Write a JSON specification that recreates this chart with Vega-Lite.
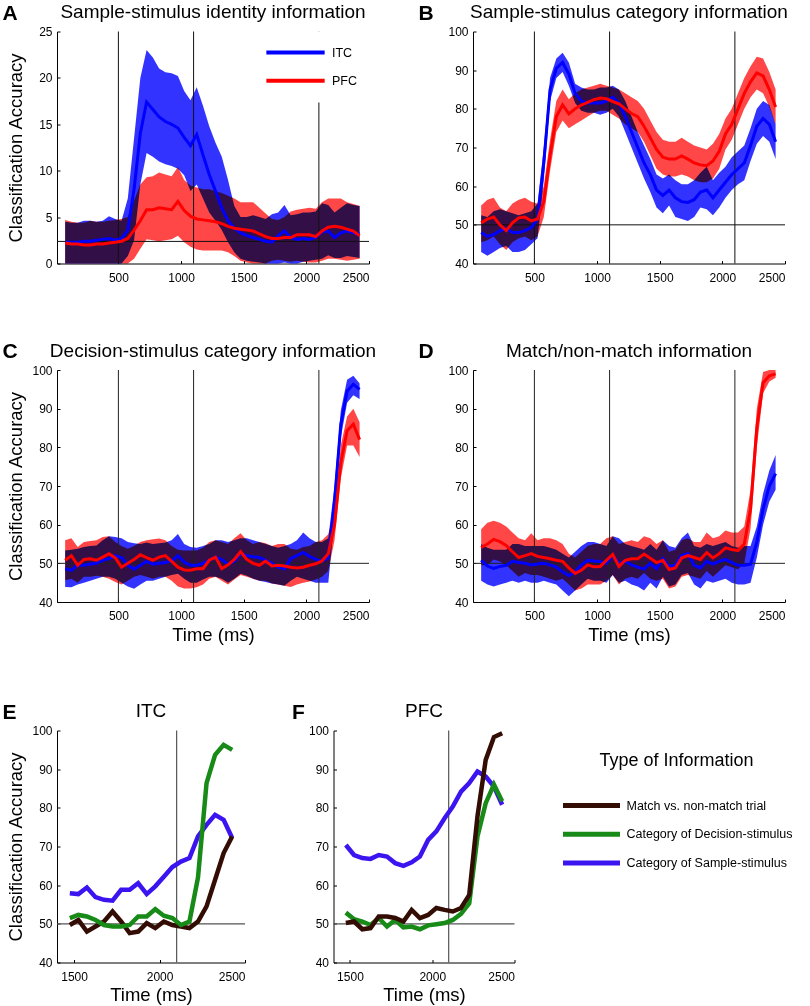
{
"$schema": "https://vega.github.io/schema/vega-lite/v6.json",
"background": "white",
"padding": {"left": 2, "top": 1.5, "right": 0, "bottom": 0},
"config": {
 "view": {"stroke": null},
 "font": "Liberation Sans",
 "axis": {"domainColor": "#000", "tickColor": "#000", "tickSize": -3, "labelColor": "#000", "labelFont": "Liberation Sans", "labelFontSize": 12, "titleFont": "Liberation Sans", "titleFontSize": 18.5, "titleFontWeight": "normal", "titleColor": "#000", "grid": false},
 "axisX": {"labelPadding": 11.5},
 "axisY": {"labelPadding": 8},
 "title": {"font": "Liberation Sans", "fontSize": 19, "fontWeight": "normal", "color": "#000", "anchor": "middle", "frame": "group", "baseline": "alphabetic", "offset": -20},
 "legend": {"labelFont": "Liberation Sans", "titleFont": "Liberation Sans", "labelColor": "#000", "titleColor": "#000", "labelLimit": 400}
},
"datasets": {
 "events": [{"t": 500}, {"t": 1100}, {"t": 2100}],
 "eventsEF": [{"t": 2100}],
 "chanceA": [{"chance": 2.38}],
 "chance50": [{"chance": 50}],
 "A": [
{"area":"ITC","t":75,"m":2.3,"lo":0,"hi":4.5},{"area":"ITC","t":125,"m":2.3,"lo":0,"hi":4.4},{"area":"ITC","t":175,"m":2.3,"lo":0,"hi":4.4},{"area":"ITC","t":225,"m":2.4,"lo":0,"hi":4.6},{"area":"ITC","t":275,"m":2.4,"lo":0,"hi":4.6},{"area":"ITC","t":325,"m":2.5,"lo":0,"hi":4.5},{"area":"ITC","t":375,"m":2.6,"lo":0,"hi":4.6},{"area":"ITC","t":425,"m":2.7,"lo":0,"hi":5.1},{"area":"ITC","t":475,"m":2.5,"lo":0,"hi":4.8},{"area":"ITC","t":525,"m":2.7,"lo":0,"hi":4.6},
{"area":"ITC","t":575,"m":3.6,"lo":0.8,"hi":7.0},{"area":"ITC","t":625,"m":8.0,"lo":2.5,"hi":13.5},{"area":"ITC","t":675,"m":14.0,"lo":8.5,"hi":20.0},{"area":"ITC","t":725,"m":17.4,"lo":11.9,"hi":23.0},{"area":"ITC","t":775,"m":16.6,"lo":11.5,"hi":22.2},{"area":"ITC","t":825,"m":15.8,"lo":11.0,"hi":21.0},{"area":"ITC","t":875,"m":15.3,"lo":10.7,"hi":20.6},{"area":"ITC","t":925,"m":15.0,"lo":10.5,"hi":20.5},{"area":"ITC","t":975,"m":14.6,"lo":10.2,"hi":20.2},{"area":"ITC","t":1025,"m":13.6,"lo":9.5,"hi":18.6},
{"area":"ITC","t":1075,"m":12.7,"lo":7.8,"hi":17.6},{"area":"ITC","t":1125,"m":13.9,"lo":8.5,"hi":19.0},{"area":"ITC","t":1175,"m":11.7,"lo":7.0,"hi":17.0},{"area":"ITC","t":1225,"m":9.6,"lo":5.5,"hi":14.8},{"area":"ITC","t":1275,"m":7.8,"lo":4.6,"hi":13.0},{"area":"ITC","t":1325,"m":6.0,"lo":3.6,"hi":11.5},{"area":"ITC","t":1375,"m":4.6,"lo":2.3,"hi":9.0},{"area":"ITC","t":1425,"m":3.8,"lo":1.2,"hi":6.2},{"area":"ITC","t":1475,"m":3.3,"lo":0.5,"hi":5.0},{"area":"ITC","t":1525,"m":3.0,"lo":0.3,"hi":5.0},
{"area":"ITC","t":1575,"m":2.8,"lo":0.2,"hi":5.2},{"area":"ITC","t":1625,"m":2.6,"lo":0.1,"hi":5.0},{"area":"ITC","t":1675,"m":2.4,"lo":0,"hi":4.8},{"area":"ITC","t":1725,"m":2.3,"lo":0,"hi":5.3},{"area":"ITC","t":1775,"m":3.0,"lo":0,"hi":5.5},{"area":"ITC","t":1825,"m":3.5,"lo":0.1,"hi":6.3},{"area":"ITC","t":1875,"m":2.8,"lo":0,"hi":5.2},{"area":"ITC","t":1925,"m":2.6,"lo":0,"hi":5.3},{"area":"ITC","t":1975,"m":2.7,"lo":0.2,"hi":5.5},{"area":"ITC","t":2025,"m":2.6,"lo":0.3,"hi":5.5},
{"area":"ITC","t":2075,"m":2.8,"lo":0.4,"hi":5.6},{"area":"ITC","t":2125,"m":3.4,"lo":0.5,"hi":6.5},{"area":"ITC","t":2175,"m":3.5,"lo":0.9,"hi":6.3},{"area":"ITC","t":2225,"m":2.8,"lo":0.6,"hi":5.5},{"area":"ITC","t":2275,"m":3.3,"lo":0.6,"hi":6.0},{"area":"ITC","t":2325,"m":3.5,"lo":0.8,"hi":6.5},{"area":"ITC","t":2375,"m":3.3,"lo":0.7,"hi":6.3},{"area":"ITC","t":2425,"m":3.2,"lo":0.6,"hi":6.2},
{"area":"PFC","t":75,"m":2.2,"lo":0,"hi":4.7},{"area":"PFC","t":125,"m":2.1,"lo":0,"hi":4.5},{"area":"PFC","t":175,"m":2.1,"lo":0,"hi":4.4},{"area":"PFC","t":225,"m":2.0,"lo":0,"hi":4.4},{"area":"PFC","t":275,"m":2.0,"lo":0,"hi":4.6},{"area":"PFC","t":325,"m":2.1,"lo":0,"hi":4.5},{"area":"PFC","t":375,"m":2.1,"lo":0,"hi":4.5},{"area":"PFC","t":425,"m":2.2,"lo":0,"hi":4.6},{"area":"PFC","t":475,"m":2.3,"lo":0,"hi":4.7},{"area":"PFC","t":525,"m":2.4,"lo":0,"hi":4.8},
{"area":"PFC","t":575,"m":2.7,"lo":0,"hi":5.0},{"area":"PFC","t":625,"m":3.6,"lo":0.5,"hi":6.8},{"area":"PFC","t":675,"m":4.6,"lo":1.6,"hi":8.5},{"area":"PFC","t":725,"m":5.8,"lo":2.6,"hi":9.3},{"area":"PFC","t":775,"m":5.8,"lo":2.5,"hi":9.4},{"area":"PFC","t":825,"m":6.0,"lo":2.4,"hi":9.8},{"area":"PFC","t":875,"m":5.9,"lo":2.5,"hi":9.6},{"area":"PFC","t":925,"m":5.8,"lo":2.6,"hi":9.4},{"area":"PFC","t":975,"m":6.7,"lo":3.0,"hi":10.4},{"area":"PFC","t":1025,"m":5.7,"lo":2.3,"hi":9.0},
{"area":"PFC","t":1075,"m":5.1,"lo":1.8,"hi":8.4},{"area":"PFC","t":1125,"m":4.8,"lo":1.5,"hi":8.2},{"area":"PFC","t":1175,"m":4.7,"lo":1.4,"hi":8.0},{"area":"PFC","t":1225,"m":4.6,"lo":1.4,"hi":8.0},{"area":"PFC","t":1275,"m":4.5,"lo":1.4,"hi":7.8},{"area":"PFC","t":1325,"m":4.3,"lo":1.4,"hi":7.6},{"area":"PFC","t":1375,"m":4.0,"lo":1.2,"hi":7.3},{"area":"PFC","t":1425,"m":3.8,"lo":0.8,"hi":7.0},{"area":"PFC","t":1475,"m":3.7,"lo":0.3,"hi":6.6},{"area":"PFC","t":1525,"m":3.6,"lo":0.1,"hi":6.6},
{"area":"PFC","t":1575,"m":3.5,"lo":0,"hi":6.6},{"area":"PFC","t":1625,"m":3.2,"lo":0,"hi":6.0},{"area":"PFC","t":1675,"m":2.9,"lo":0,"hi":5.4},{"area":"PFC","t":1725,"m":2.7,"lo":0.3,"hi":4.8},{"area":"PFC","t":1775,"m":2.7,"lo":0.4,"hi":4.7},{"area":"PFC","t":1825,"m":2.8,"lo":0.3,"hi":5.0},{"area":"PFC","t":1875,"m":2.8,"lo":0.2,"hi":5.6},{"area":"PFC","t":1925,"m":3.1,"lo":0.3,"hi":5.8},{"area":"PFC","t":1975,"m":3.1,"lo":0.2,"hi":5.9},{"area":"PFC","t":2025,"m":3.1,"lo":0.1,"hi":6.0},
{"area":"PFC","t":2075,"m":2.9,"lo":0.1,"hi":5.9},{"area":"PFC","t":2125,"m":3.5,"lo":0.3,"hi":6.6},{"area":"PFC","t":2175,"m":3.9,"lo":0.5,"hi":7.0},{"area":"PFC","t":2225,"m":4.0,"lo":0.5,"hi":7.0},{"area":"PFC","t":2275,"m":3.9,"lo":0.4,"hi":7.0},{"area":"PFC","t":2325,"m":3.7,"lo":0.3,"hi":6.6},{"area":"PFC","t":2375,"m":3.5,"lo":0.4,"hi":6.4},{"area":"PFC","t":2425,"m":3.0,"lo":0.5,"hi":6.2}
 ],
 "B": [
{"area":"ITC","t":75,"m":48.0,"lo":43.0,"hi":52.5},{"area":"ITC","t":125,"m":47.0,"lo":42.0,"hi":52.0},{"area":"ITC","t":175,"m":47.5,"lo":43.0,"hi":53.5},{"area":"ITC","t":225,"m":48.5,"lo":44.0,"hi":54.0},{"area":"ITC","t":275,"m":49.0,"lo":44.5,"hi":53.5},{"area":"ITC","t":325,"m":48.0,"lo":43.0,"hi":53.0},{"area":"ITC","t":375,"m":48.0,"lo":43.0,"hi":52.5},{"area":"ITC","t":425,"m":48.5,"lo":43.5,"hi":53.0},{"area":"ITC","t":475,"m":49.3,"lo":45.0,"hi":53.5},{"area":"ITC","t":525,"m":51.5,"lo":46.5,"hi":55.5},
{"area":"ITC","t":575,"m":66.0,"lo":61.5,"hi":70.0},{"area":"ITC","t":625,"m":85.0,"lo":82.0,"hi":88.0},{"area":"ITC","t":675,"m":90.5,"lo":88.0,"hi":93.0},{"area":"ITC","t":725,"m":92.0,"lo":89.5,"hi":94.5},{"area":"ITC","t":775,"m":89.0,"lo":86.0,"hi":92.0},{"area":"ITC","t":825,"m":84.0,"lo":81.5,"hi":86.5},{"area":"ITC","t":875,"m":82.0,"lo":79.5,"hi":85.5},{"area":"ITC","t":925,"m":81.5,"lo":79.0,"hi":85.0},{"area":"ITC","t":975,"m":81.5,"lo":79.0,"hi":85.0},{"area":"ITC","t":1025,"m":81.5,"lo":78.5,"hi":85.5},
{"area":"ITC","t":1075,"m":82.0,"lo":79.0,"hi":85.5},{"area":"ITC","t":1125,"m":83.0,"lo":80.0,"hi":86.0},{"area":"ITC","t":1175,"m":81.5,"lo":78.0,"hi":85.0},{"area":"ITC","t":1225,"m":78.0,"lo":74.0,"hi":82.0},{"area":"ITC","t":1275,"m":74.0,"lo":70.0,"hi":78.0},{"area":"ITC","t":1325,"m":70.0,"lo":66.0,"hi":74.0},{"area":"ITC","t":1375,"m":66.0,"lo":62.0,"hi":70.5},{"area":"ITC","t":1425,"m":63.0,"lo":58.5,"hi":67.0},{"area":"ITC","t":1475,"m":59.0,"lo":54.5,"hi":63.0},{"area":"ITC","t":1525,"m":57.6,"lo":53.0,"hi":62.0},
{"area":"ITC","t":1575,"m":59.0,"lo":55.0,"hi":63.0},{"area":"ITC","t":1625,"m":57.0,"lo":52.0,"hi":61.5},{"area":"ITC","t":1675,"m":56.0,"lo":51.5,"hi":60.5},{"area":"ITC","t":1725,"m":55.8,"lo":51.0,"hi":60.5},{"area":"ITC","t":1775,"m":56.5,"lo":52.0,"hi":61.5},{"area":"ITC","t":1825,"m":58.5,"lo":54.5,"hi":63.5},{"area":"ITC","t":1875,"m":59.0,"lo":54.0,"hi":65.0},{"area":"ITC","t":1925,"m":57.0,"lo":52.5,"hi":61.5},{"area":"ITC","t":1975,"m":59.0,"lo":54.5,"hi":63.5},{"area":"ITC","t":2025,"m":61.0,"lo":57.0,"hi":65.0},
{"area":"ITC","t":2075,"m":63.0,"lo":59.0,"hi":67.5},{"area":"ITC","t":2125,"m":64.5,"lo":60.5,"hi":69.0},{"area":"ITC","t":2175,"m":66.0,"lo":61.5,"hi":70.5},{"area":"ITC","t":2225,"m":70.5,"lo":66.5,"hi":75.0},{"area":"ITC","t":2275,"m":75.5,"lo":71.0,"hi":80.0},{"area":"ITC","t":2325,"m":77.5,"lo":73.0,"hi":82.0},{"area":"ITC","t":2375,"m":76.0,"lo":71.5,"hi":81.0},{"area":"ITC","t":2425,"m":71.5,"lo":67.0,"hi":76.0},
{"area":"PFC","t":75,"m":50.5,"lo":45.5,"hi":55.0},{"area":"PFC","t":125,"m":51.5,"lo":46.0,"hi":56.5},{"area":"PFC","t":175,"m":52.0,"lo":47.0,"hi":57.0},{"area":"PFC","t":225,"m":50.0,"lo":45.0,"hi":54.5},{"area":"PFC","t":275,"m":48.5,"lo":43.5,"hi":53.5},{"area":"PFC","t":325,"m":50.5,"lo":45.5,"hi":55.5},{"area":"PFC","t":375,"m":51.8,"lo":46.5,"hi":56.5},{"area":"PFC","t":425,"m":52.0,"lo":47.0,"hi":57.0},{"area":"PFC","t":475,"m":51.0,"lo":46.0,"hi":56.0},{"area":"PFC","t":525,"m":51.5,"lo":47.0,"hi":55.5},
{"area":"PFC","t":575,"m":56.0,"lo":52.0,"hi":60.0},{"area":"PFC","t":625,"m":68.0,"lo":64.0,"hi":72.0},{"area":"PFC","t":675,"m":78.0,"lo":74.0,"hi":82.0},{"area":"PFC","t":725,"m":81.0,"lo":77.0,"hi":85.0},{"area":"PFC","t":775,"m":78.7,"lo":75.0,"hi":82.5},{"area":"PFC","t":825,"m":80.0,"lo":76.0,"hi":84.0},{"area":"PFC","t":875,"m":81.0,"lo":77.0,"hi":85.0},{"area":"PFC","t":925,"m":81.7,"lo":78.0,"hi":85.5},{"area":"PFC","t":975,"m":82.4,"lo":79.0,"hi":86.0},{"area":"PFC","t":1025,"m":82.8,"lo":79.5,"hi":86.5},
{"area":"PFC","t":1075,"m":82.6,"lo":79.5,"hi":86.0},{"area":"PFC","t":1125,"m":81.9,"lo":78.5,"hi":85.5},{"area":"PFC","t":1175,"m":81.3,"lo":77.5,"hi":85.0},{"area":"PFC","t":1225,"m":80.0,"lo":76.0,"hi":84.0},{"area":"PFC","t":1275,"m":78.8,"lo":75.0,"hi":83.0},{"area":"PFC","t":1325,"m":78.0,"lo":74.0,"hi":82.0},{"area":"PFC","t":1375,"m":75.5,"lo":71.5,"hi":80.0},{"area":"PFC","t":1425,"m":72.5,"lo":68.0,"hi":77.0},{"area":"PFC","t":1475,"m":69.5,"lo":64.5,"hi":74.0},{"area":"PFC","t":1525,"m":67.5,"lo":63.0,"hi":72.0},
{"area":"PFC","t":1575,"m":67.0,"lo":62.5,"hi":71.5},{"area":"PFC","t":1625,"m":67.0,"lo":62.5,"hi":71.5},{"area":"PFC","t":1675,"m":67.8,"lo":63.0,"hi":72.5},{"area":"PFC","t":1725,"m":67.0,"lo":62.5,"hi":71.5},{"area":"PFC","t":1775,"m":66.0,"lo":61.5,"hi":70.5},{"area":"PFC","t":1825,"m":65.5,"lo":61.0,"hi":70.0},{"area":"PFC","t":1875,"m":65.3,"lo":61.0,"hi":69.5},{"area":"PFC","t":1925,"m":66.5,"lo":62.0,"hi":71.0},{"area":"PFC","t":1975,"m":69.0,"lo":64.5,"hi":73.5},{"area":"PFC","t":2025,"m":73.5,"lo":69.5,"hi":77.5},
{"area":"PFC","t":2075,"m":76.0,"lo":72.0,"hi":80.0},{"area":"PFC","t":2125,"m":80.0,"lo":76.0,"hi":84.0},{"area":"PFC","t":2175,"m":84.0,"lo":80.0,"hi":88.0},{"area":"PFC","t":2225,"m":87.0,"lo":83.0,"hi":91.0},{"area":"PFC","t":2275,"m":89.3,"lo":85.0,"hi":93.5},{"area":"PFC","t":2325,"m":88.5,"lo":84.0,"hi":93.0},{"area":"PFC","t":2375,"m":85.0,"lo":80.5,"hi":89.5},{"area":"PFC","t":2425,"m":80.5,"lo":76.0,"hi":85.0}
 ],
 "C": [
{"area":"ITC","t":75,"m":48.6,"lo":43.9,"hi":53.3},{"area":"ITC","t":125,"m":48.2,"lo":43.8,"hi":53.5},{"area":"ITC","t":175,"m":49.6,"lo":44.5,"hi":53.8},{"area":"ITC","t":225,"m":49.5,"lo":45.0,"hi":54.2},{"area":"ITC","t":275,"m":49.8,"lo":45.5,"hi":54.5},{"area":"ITC","t":325,"m":50.0,"lo":46.0,"hi":54.6},{"area":"ITC","t":375,"m":50.8,"lo":46.5,"hi":56.0},{"area":"ITC","t":425,"m":51.2,"lo":46.5,"hi":57.0},{"area":"ITC","t":475,"m":52.0,"lo":46.0,"hi":56.8},{"area":"ITC","t":525,"m":51.5,"lo":45.0,"hi":56.5},
{"area":"ITC","t":575,"m":49.5,"lo":44.0,"hi":55.5},{"area":"ITC","t":625,"m":48.5,"lo":43.4,"hi":55.2},{"area":"ITC","t":675,"m":49.5,"lo":44.5,"hi":55.0},{"area":"ITC","t":725,"m":50.5,"lo":45.5,"hi":55.4},{"area":"ITC","t":775,"m":49.8,"lo":45.5,"hi":55.0},{"area":"ITC","t":825,"m":50.0,"lo":46.0,"hi":55.2},{"area":"ITC","t":875,"m":50.2,"lo":46.5,"hi":55.4},{"area":"ITC","t":925,"m":50.6,"lo":47.0,"hi":56.0},{"area":"ITC","t":975,"m":52.0,"lo":47.3,"hi":57.6},{"area":"ITC","t":1025,"m":50.3,"lo":46.0,"hi":55.0},
{"area":"ITC","t":1075,"m":49.5,"lo":45.0,"hi":54.2},{"area":"ITC","t":1125,"m":49.5,"lo":45.0,"hi":54.0},{"area":"ITC","t":1175,"m":50.0,"lo":45.8,"hi":54.5},{"area":"ITC","t":1225,"m":50.8,"lo":46.5,"hi":55.0},{"area":"ITC","t":1275,"m":51.6,"lo":46.5,"hi":56.0},{"area":"ITC","t":1325,"m":51.0,"lo":46.0,"hi":56.0},{"area":"ITC","t":1375,"m":49.8,"lo":45.0,"hi":55.5},{"area":"ITC","t":1425,"m":50.5,"lo":46.0,"hi":56.0},{"area":"ITC","t":1475,"m":52.5,"lo":47.3,"hi":56.5},{"area":"ITC","t":1525,"m":52.0,"lo":46.8,"hi":56.5},
{"area":"ITC","t":1575,"m":51.7,"lo":46.0,"hi":56.0},{"area":"ITC","t":1625,"m":51.5,"lo":45.5,"hi":55.5},{"area":"ITC","t":1675,"m":50.8,"lo":45.2,"hi":55.0},{"area":"ITC","t":1725,"m":50.0,"lo":44.8,"hi":54.5},{"area":"ITC","t":1775,"m":49.0,"lo":44.5,"hi":54.0},{"area":"ITC","t":1825,"m":48.6,"lo":44.2,"hi":54.5},{"area":"ITC","t":1875,"m":51.2,"lo":45.5,"hi":55.0},{"area":"ITC","t":1925,"m":52.0,"lo":46.5,"hi":56.0},{"area":"ITC","t":1975,"m":52.8,"lo":46.0,"hi":58.0},{"area":"ITC","t":2025,"m":51.8,"lo":45.5,"hi":56.5},
{"area":"ITC","t":2075,"m":51.0,"lo":45.0,"hi":55.5},{"area":"ITC","t":2125,"m":50.5,"lo":45.0,"hi":55.5},{"area":"ITC","t":2175,"m":51.5,"lo":45.0,"hi":56.5},{"area":"ITC","t":2225,"m":66.0,"lo":61.5,"hi":70.0},{"area":"ITC","t":2275,"m":86.0,"lo":82.5,"hi":89.5},{"area":"ITC","t":2325,"m":94.5,"lo":91.5,"hi":97.5},{"area":"ITC","t":2375,"m":96.3,"lo":93.5,"hi":98.5},{"area":"ITC","t":2425,"m":95.0,"lo":92.5,"hi":96.5},
{"area":"PFC","t":75,"m":50.8,"lo":45.6,"hi":56.0},{"area":"PFC","t":125,"m":52.0,"lo":46.0,"hi":56.5},{"area":"PFC","t":175,"m":49.5,"lo":45.0,"hi":54.2},{"area":"PFC","t":225,"m":51.0,"lo":46.5,"hi":55.5},{"area":"PFC","t":275,"m":51.2,"lo":46.5,"hi":55.8},{"area":"PFC","t":325,"m":50.8,"lo":46.8,"hi":56.0},{"area":"PFC","t":375,"m":51.6,"lo":46.5,"hi":56.8},{"area":"PFC","t":425,"m":52.5,"lo":46.0,"hi":57.0},{"area":"PFC","t":475,"m":51.4,"lo":45.2,"hi":55.5},{"area":"PFC","t":525,"m":49.0,"lo":44.5,"hi":54.5},
{"area":"PFC","t":575,"m":50.0,"lo":45.5,"hi":53.8},{"area":"PFC","t":625,"m":51.0,"lo":46.5,"hi":54.5},{"area":"PFC","t":675,"m":52.2,"lo":47.0,"hi":55.5},{"area":"PFC","t":725,"m":51.5,"lo":46.5,"hi":56.0},{"area":"PFC","t":775,"m":50.8,"lo":46.0,"hi":56.2},{"area":"PFC","t":825,"m":51.6,"lo":46.5,"hi":56.4},{"area":"PFC","t":875,"m":52.0,"lo":46.5,"hi":56.0},{"area":"PFC","t":925,"m":50.5,"lo":45.5,"hi":54.5},{"area":"PFC","t":975,"m":49.0,"lo":44.0,"hi":53.5},{"area":"PFC","t":1025,"m":48.3,"lo":43.5,"hi":53.3},
{"area":"PFC","t":1075,"m":48.2,"lo":43.5,"hi":53.3},{"area":"PFC","t":1125,"m":48.6,"lo":43.8,"hi":53.3},{"area":"PFC","t":1175,"m":48.6,"lo":44.5,"hi":54.0},{"area":"PFC","t":1225,"m":50.8,"lo":46.0,"hi":55.5},{"area":"PFC","t":1275,"m":51.6,"lo":46.5,"hi":56.0},{"area":"PFC","t":1325,"m":48.6,"lo":45.5,"hi":55.5},{"area":"PFC","t":1375,"m":49.6,"lo":44.5,"hi":55.0},{"area":"PFC","t":1425,"m":51.0,"lo":45.8,"hi":56.5},{"area":"PFC","t":1475,"m":53.0,"lo":47.0,"hi":57.8},{"area":"PFC","t":1525,"m":51.0,"lo":46.5,"hi":56.0},
{"area":"PFC","t":1575,"m":50.0,"lo":46.0,"hi":55.0},{"area":"PFC","t":1625,"m":49.5,"lo":45.5,"hi":55.5},{"area":"PFC","t":1675,"m":50.6,"lo":45.5,"hi":55.2},{"area":"PFC","t":1725,"m":49.3,"lo":44.8,"hi":54.5},{"area":"PFC","t":1775,"m":49.5,"lo":44.5,"hi":55.0},{"area":"PFC","t":1825,"m":49.3,"lo":44.2,"hi":55.0},{"area":"PFC","t":1875,"m":49.0,"lo":43.9,"hi":53.8},{"area":"PFC","t":1925,"m":48.8,"lo":44.5,"hi":53.5},{"area":"PFC","t":1975,"m":49.0,"lo":45.0,"hi":54.2},{"area":"PFC","t":2025,"m":49.5,"lo":45.3,"hi":54.5},
{"area":"PFC","t":2075,"m":49.9,"lo":45.8,"hi":55.5},{"area":"PFC","t":2125,"m":50.6,"lo":46.5,"hi":56.0},{"area":"PFC","t":2175,"m":52.5,"lo":48.0,"hi":57.5},{"area":"PFC","t":2225,"m":60.0,"lo":56.0,"hi":64.0},{"area":"PFC","t":2275,"m":76.0,"lo":72.0,"hi":80.5},{"area":"PFC","t":2325,"m":84.3,"lo":80.5,"hi":88.0},{"area":"PFC","t":2375,"m":86.0,"lo":80.5,"hi":90.0},{"area":"PFC","t":2425,"m":82.0,"lo":77.5,"hi":86.5}
 ],
 "D": [
{"area":"ITC","t":75,"m":50.8,"lo":45.5,"hi":55.0},{"area":"ITC","t":125,"m":49.3,"lo":44.5,"hi":54.0},{"area":"ITC","t":175,"m":48.7,"lo":44.0,"hi":53.5},{"area":"ITC","t":225,"m":49.2,"lo":44.5,"hi":53.5},{"area":"ITC","t":275,"m":49.5,"lo":45.0,"hi":53.5},{"area":"ITC","t":325,"m":50.5,"lo":45.5,"hi":55.0},{"area":"ITC","t":375,"m":50.2,"lo":45.0,"hi":55.0},{"area":"ITC","t":425,"m":50.0,"lo":45.5,"hi":54.5},{"area":"ITC","t":475,"m":49.6,"lo":45.0,"hi":54.5},{"area":"ITC","t":525,"m":49.8,"lo":45.0,"hi":54.5},
{"area":"ITC","t":575,"m":50.0,"lo":45.5,"hi":54.5},{"area":"ITC","t":625,"m":49.6,"lo":45.0,"hi":54.0},{"area":"ITC","t":675,"m":49.0,"lo":44.5,"hi":53.5},{"area":"ITC","t":725,"m":47.8,"lo":43.0,"hi":52.5},{"area":"ITC","t":775,"m":46.8,"lo":41.5,"hi":51.5},{"area":"ITC","t":825,"m":47.8,"lo":43.0,"hi":53.0},{"area":"ITC","t":875,"m":49.6,"lo":44.5,"hi":54.5},{"area":"ITC","t":925,"m":50.8,"lo":46.0,"hi":55.5},{"area":"ITC","t":975,"m":50.6,"lo":45.5,"hi":55.5},{"area":"ITC","t":1025,"m":50.5,"lo":45.5,"hi":55.0},
{"area":"ITC","t":1075,"m":50.0,"lo":45.0,"hi":54.5},{"area":"ITC","t":1125,"m":52.0,"lo":47.0,"hi":57.0},{"area":"ITC","t":1175,"m":50.0,"lo":45.0,"hi":56.5},{"area":"ITC","t":1225,"m":50.5,"lo":45.5,"hi":55.0},{"area":"ITC","t":1275,"m":49.6,"lo":44.5,"hi":54.5},{"area":"ITC","t":1325,"m":49.0,"lo":44.0,"hi":54.0},{"area":"ITC","t":1375,"m":48.5,"lo":43.0,"hi":53.5},{"area":"ITC","t":1425,"m":50.0,"lo":45.0,"hi":55.0},{"area":"ITC","t":1475,"m":48.6,"lo":43.5,"hi":53.5},{"area":"ITC","t":1525,"m":51.2,"lo":46.5,"hi":56.0},
{"area":"ITC","t":1575,"m":49.2,"lo":44.0,"hi":54.5},{"area":"ITC","t":1625,"m":49.6,"lo":44.5,"hi":54.0},{"area":"ITC","t":1675,"m":52.0,"lo":47.0,"hi":56.5},{"area":"ITC","t":1725,"m":52.5,"lo":47.5,"hi":58.0},{"area":"ITC","t":1775,"m":49.5,"lo":44.5,"hi":54.5},{"area":"ITC","t":1825,"m":48.8,"lo":43.5,"hi":54.0},{"area":"ITC","t":1875,"m":50.5,"lo":45.5,"hi":55.0},{"area":"ITC","t":1925,"m":49.8,"lo":45.0,"hi":54.5},{"area":"ITC","t":1975,"m":50.5,"lo":45.5,"hi":55.0},{"area":"ITC","t":2025,"m":51.0,"lo":46.0,"hi":55.5},
{"area":"ITC","t":2075,"m":50.2,"lo":45.0,"hi":54.5},{"area":"ITC","t":2125,"m":49.5,"lo":44.5,"hi":54.0},{"area":"ITC","t":2175,"m":49.5,"lo":44.5,"hi":54.5},{"area":"ITC","t":2225,"m":49.8,"lo":45.0,"hi":54.5},{"area":"ITC","t":2275,"m":55.5,"lo":51.5,"hi":59.5},{"area":"ITC","t":2325,"m":64.0,"lo":60.0,"hi":68.0},{"area":"ITC","t":2375,"m":70.0,"lo":66.0,"hi":74.0},{"area":"ITC","t":2425,"m":73.2,"lo":69.0,"hi":78.0},
{"area":"PFC","t":75,"m":54.1,"lo":49.5,"hi":58.8},{"area":"PFC","t":125,"m":55.0,"lo":49.5,"hi":60.5},{"area":"PFC","t":175,"m":56.2,"lo":51.0,"hi":61.0},{"area":"PFC","t":225,"m":55.6,"lo":50.5,"hi":60.5},{"area":"PFC","t":275,"m":54.6,"lo":49.5,"hi":59.5},{"area":"PFC","t":325,"m":53.0,"lo":48.0,"hi":58.0},{"area":"PFC","t":375,"m":51.5,"lo":46.5,"hi":56.5},{"area":"PFC","t":425,"m":52.0,"lo":47.5,"hi":56.0},{"area":"PFC","t":475,"m":52.5,"lo":47.0,"hi":57.8},{"area":"PFC","t":525,"m":51.8,"lo":47.0,"hi":56.0},
{"area":"PFC","t":575,"m":51.5,"lo":46.5,"hi":56.5},{"area":"PFC","t":625,"m":51.2,"lo":46.0,"hi":56.5},{"area":"PFC","t":675,"m":50.8,"lo":45.5,"hi":56.0},{"area":"PFC","t":725,"m":50.5,"lo":46.0,"hi":55.0},{"area":"PFC","t":775,"m":48.8,"lo":44.5,"hi":52.5},{"area":"PFC","t":825,"m":47.4,"lo":43.0,"hi":51.5},{"area":"PFC","t":875,"m":48.2,"lo":43.5,"hi":53.0},{"area":"PFC","t":925,"m":49.6,"lo":44.5,"hi":54.5},{"area":"PFC","t":975,"m":49.1,"lo":44.5,"hi":55.0},{"area":"PFC","t":1025,"m":49.2,"lo":44.5,"hi":55.0},
{"area":"PFC","t":1075,"m":50.8,"lo":45.5,"hi":56.5},{"area":"PFC","t":1125,"m":52.3,"lo":47.0,"hi":57.0},{"area":"PFC","t":1175,"m":49.2,"lo":44.5,"hi":55.0},{"area":"PFC","t":1225,"m":50.8,"lo":46.0,"hi":55.5},{"area":"PFC","t":1275,"m":51.2,"lo":46.5,"hi":56.0},{"area":"PFC","t":1325,"m":51.2,"lo":46.0,"hi":55.5},{"area":"PFC","t":1375,"m":52.4,"lo":47.5,"hi":57.0},{"area":"PFC","t":1425,"m":51.3,"lo":46.0,"hi":56.5},{"area":"PFC","t":1475,"m":50.2,"lo":45.5,"hi":55.0},{"area":"PFC","t":1525,"m":50.8,"lo":46.0,"hi":56.0},
{"area":"PFC","t":1575,"m":48.4,"lo":43.5,"hi":53.0},{"area":"PFC","t":1625,"m":48.8,"lo":44.0,"hi":53.5},{"area":"PFC","t":1675,"m":51.4,"lo":46.5,"hi":56.0},{"area":"PFC","t":1725,"m":52.0,"lo":47.0,"hi":56.5},{"area":"PFC","t":1775,"m":51.5,"lo":46.5,"hi":55.5},{"area":"PFC","t":1825,"m":51.0,"lo":46.0,"hi":55.5},{"area":"PFC","t":1875,"m":52.8,"lo":48.0,"hi":58.0},{"area":"PFC","t":1925,"m":51.4,"lo":46.5,"hi":56.5},{"area":"PFC","t":1975,"m":52.5,"lo":48.0,"hi":57.0},{"area":"PFC","t":2025,"m":54.0,"lo":49.5,"hi":58.5},
{"area":"PFC","t":2075,"m":53.6,"lo":49.0,"hi":58.0},{"area":"PFC","t":2125,"m":53.3,"lo":48.5,"hi":58.0},{"area":"PFC","t":2175,"m":55.0,"lo":50.0,"hi":59.5},{"area":"PFC","t":2225,"m":64.0,"lo":59.0,"hi":69.0},{"area":"PFC","t":2275,"m":85.0,"lo":80.0,"hi":90.0},{"area":"PFC","t":2325,"m":96.7,"lo":94.0,"hi":99.5},{"area":"PFC","t":2375,"m":98.5,"lo":97.0,"hi":100},{"area":"PFC","t":2425,"m":99.0,"lo":98.0,"hi":100}
 ],
 "E": [
{"info":"Category of Sample-stimulus","t":1475,"v":57.9},{"info":"Category of Sample-stimulus","t":1525,"v":57.7},{"info":"Category of Sample-stimulus","t":1575,"v":59.4},{"info":"Category of Sample-stimulus","t":1625,"v":56.9},{"info":"Category of Sample-stimulus","t":1675,"v":56.2},{"info":"Category of Sample-stimulus","t":1725,"v":56.0},{"info":"Category of Sample-stimulus","t":1775,"v":58.8},{"info":"Category of Sample-stimulus","t":1825,"v":58.8},{"info":"Category of Sample-stimulus","t":1875,"v":60.5},{"info":"Category of Sample-stimulus","t":1925,"v":57.7},
{"info":"Category of Sample-stimulus","t":1975,"v":59.7},{"info":"Category of Sample-stimulus","t":2025,"v":62.2},{"info":"Category of Sample-stimulus","t":2075,"v":64.7},{"info":"Category of Sample-stimulus","t":2125,"v":66.1},{"info":"Category of Sample-stimulus","t":2175,"v":67.0},{"info":"Category of Sample-stimulus","t":2225,"v":72.6},{"info":"Category of Sample-stimulus","t":2275,"v":75.6},{"info":"Category of Sample-stimulus","t":2325,"v":78.2},{"info":"Category of Sample-stimulus","t":2375,"v":76.9},{"info":"Category of Sample-stimulus","t":2425,"v":72.2},
{"info":"Match vs. non-match trial","t":1475,"v":49.7},{"info":"Match vs. non-match trial","t":1525,"v":51.0},{"info":"Match vs. non-match trial","t":1575,"v":48.0},{"info":"Match vs. non-match trial","t":1625,"v":49.3},{"info":"Match vs. non-match trial","t":1675,"v":50.6},{"info":"Match vs. non-match trial","t":1725,"v":53.2},{"info":"Match vs. non-match trial","t":1775,"v":50.6},{"info":"Match vs. non-match trial","t":1825,"v":47.6},{"info":"Match vs. non-match trial","t":1875,"v":48.0},{"info":"Match vs. non-match trial","t":1925,"v":50.2},
{"info":"Match vs. non-match trial","t":1975,"v":48.9},{"info":"Match vs. non-match trial","t":2025,"v":50.6},{"info":"Match vs. non-match trial","t":2075,"v":49.7},{"info":"Match vs. non-match trial","t":2125,"v":49.3},{"info":"Match vs. non-match trial","t":2175,"v":48.9},{"info":"Match vs. non-match trial","t":2225,"v":50.6},{"info":"Match vs. non-match trial","t":2275,"v":54.5},{"info":"Match vs. non-match trial","t":2325,"v":61.4},{"info":"Match vs. non-match trial","t":2375,"v":68.3},{"info":"Match vs. non-match trial","t":2425,"v":72.6},
{"info":"Category of Decision-stimulus","t":1475,"v":51.5},{"info":"Category of Decision-stimulus","t":1525,"v":52.3},{"info":"Category of Decision-stimulus","t":1575,"v":51.9},{"info":"Category of Decision-stimulus","t":1625,"v":51.0},{"info":"Category of Decision-stimulus","t":1675,"v":49.7},{"info":"Category of Decision-stimulus","t":1725,"v":49.3},{"info":"Category of Decision-stimulus","t":1775,"v":49.3},{"info":"Category of Decision-stimulus","t":1825,"v":49.7},{"info":"Category of Decision-stimulus","t":1875,"v":51.9},{"info":"Category of Decision-stimulus","t":1925,"v":51.9},
{"info":"Category of Decision-stimulus","t":1975,"v":53.8},{"info":"Category of Decision-stimulus","t":2025,"v":52.1},{"info":"Category of Decision-stimulus","t":2075,"v":51.5},{"info":"Category of Decision-stimulus","t":2125,"v":49.7},{"info":"Category of Decision-stimulus","t":2175,"v":50.6},{"info":"Category of Decision-stimulus","t":2225,"v":62.0},{"info":"Category of Decision-stimulus","t":2275,"v":86.4},{"info":"Category of Decision-stimulus","t":2325,"v":93.7},{"info":"Category of Decision-stimulus","t":2375,"v":96.3},{"info":"Category of Decision-stimulus","t":2425,"v":95.0}
 ],
 "F": [
{"info":"Category of Sample-stimulus","t":1475,"v":70.4},{"info":"Category of Sample-stimulus","t":1525,"v":67.8},{"info":"Category of Sample-stimulus","t":1575,"v":67.0},{"info":"Category of Sample-stimulus","t":1625,"v":66.8},{"info":"Category of Sample-stimulus","t":1675,"v":67.8},{"info":"Category of Sample-stimulus","t":1725,"v":67.4},{"info":"Category of Sample-stimulus","t":1775,"v":65.7},{"info":"Category of Sample-stimulus","t":1825,"v":65.0},{"info":"Category of Sample-stimulus","t":1875,"v":65.9},{"info":"Category of Sample-stimulus","t":1925,"v":67.4},
{"info":"Category of Sample-stimulus","t":1975,"v":71.7},{"info":"Category of Sample-stimulus","t":2025,"v":73.9},{"info":"Category of Sample-stimulus","t":2075,"v":77.3},{"info":"Category of Sample-stimulus","t":2125,"v":80.3},{"info":"Category of Sample-stimulus","t":2175,"v":84.2},{"info":"Category of Sample-stimulus","t":2225,"v":86.4},{"info":"Category of Sample-stimulus","t":2275,"v":89.4},{"info":"Category of Sample-stimulus","t":2325,"v":88.1},{"info":"Category of Sample-stimulus","t":2375,"v":85.5},{"info":"Category of Sample-stimulus","t":2425,"v":80.8},
{"info":"Category of Decision-stimulus","t":1475,"v":52.9},{"info":"Category of Decision-stimulus","t":1525,"v":51.2},{"info":"Category of Decision-stimulus","t":1575,"v":50.6},{"info":"Category of Decision-stimulus","t":1625,"v":49.7},{"info":"Category of Decision-stimulus","t":1675,"v":51.5},{"info":"Category of Decision-stimulus","t":1725,"v":49.3},{"info":"Category of Decision-stimulus","t":1775,"v":51.0},{"info":"Category of Decision-stimulus","t":1825,"v":49.1},{"info":"Category of Decision-stimulus","t":1875,"v":49.3},{"info":"Category of Decision-stimulus","t":1925,"v":48.6},
{"info":"Category of Decision-stimulus","t":1975,"v":49.6},{"info":"Category of Decision-stimulus","t":2025,"v":49.9},{"info":"Category of Decision-stimulus","t":2075,"v":50.2},{"info":"Category of Decision-stimulus","t":2125,"v":51.0},{"info":"Category of Decision-stimulus","t":2175,"v":52.6},{"info":"Category of Decision-stimulus","t":2225,"v":55.3},{"info":"Category of Decision-stimulus","t":2275,"v":72.6},{"info":"Category of Decision-stimulus","t":2325,"v":81.2},{"info":"Category of Decision-stimulus","t":2375,"v":86.0},{"info":"Category of Decision-stimulus","t":2425,"v":81.7},
{"info":"Match vs. non-match trial","t":1475,"v":50.2},{"info":"Match vs. non-match trial","t":1525,"v":50.6},{"info":"Match vs. non-match trial","t":1575,"v":48.6},{"info":"Match vs. non-match trial","t":1625,"v":48.9},{"info":"Match vs. non-match trial","t":1675,"v":51.9},{"info":"Match vs. non-match trial","t":1725,"v":51.9},{"info":"Match vs. non-match trial","t":1775,"v":51.5},{"info":"Match vs. non-match trial","t":1825,"v":50.6},{"info":"Match vs. non-match trial","t":1875,"v":53.6},{"info":"Match vs. non-match trial","t":1925,"v":51.5},
{"info":"Match vs. non-match trial","t":1975,"v":52.3},{"info":"Match vs. non-match trial","t":2025,"v":54.1},{"info":"Match vs. non-match trial","t":2075,"v":53.6},{"info":"Match vs. non-match trial","t":2125,"v":53.2},{"info":"Match vs. non-match trial","t":2175,"v":54.1},{"info":"Match vs. non-match trial","t":2225,"v":57.5},{"info":"Match vs. non-match trial","t":2275,"v":77.8},{"info":"Match vs. non-match trial","t":2325,"v":92.4},{"info":"Match vs. non-match trial","t":2375,"v":98.3},{"info":"Match vs. non-match trial","t":2425,"v":99.3}
 ]
},
"resolve": {"scale": {"stroke": "independent"}, "legend": {"stroke": "independent"}},
"spacing": 56.5,
"vconcat": [
 {
  "hconcat": [
   {
    "width": 312, "height": 232,
    "title": "Sample-stimulus identity information",
    "resolve": {"axis": {"x": "independent", "y": "independent"}},
    "layer": [
     {"data": {"name": "A"}, "transform": [{"filter": {"field": "area", "equal": "ITC"}}], "mark": {"type": "area", "fill": "#0000ff", "fillOpacity": 0.8},
      "encoding": {
       "x": {"field": "t", "type": "quantitative", "scale": {"domain": [10, 2500], "nice": false}, "axis": {"values": [500, 1000, 1500, 2000, 2500], "format": "d", "title": null}},
       "y": {"field": "lo", "type": "quantitative", "scale": {"domain": [0, 25], "nice": false}, "axis": {"values": [0, 5, 10, 15, 20, 25], "title": "Classification Accuracy", "titleX": -42, "titleY": 116, "titleAngle": -90, "titleAlign": "center", "titleBaseline": "middle"}},
       "y2": {"field": "hi"}}},
     {"data": {"name": "A"}, "transform": [{"filter": {"field": "area", "equal": "PFC"}}], "mark": {"type": "area", "fill": "#ff0000", "fillOpacity": 0.72, "blend": "multiply"},
      "encoding": {
       "x": {"field": "t", "type": "quantitative", "scale": {"domain": [10, 2500], "nice": false}, "axis": null},
       "y": {"field": "lo", "type": "quantitative", "scale": {"domain": [0, 25], "nice": false}, "axis": null},
       "y2": {"field": "hi"}}},
     {"data": {"name": "events"}, "mark": {"type": "rule", "color": "#111", "strokeWidth": 1},
      "encoding": {"x": {"field": "t", "type": "quantitative", "scale": {"domain": [10, 2500], "nice": false}, "axis": {"orient": "top", "title": "A", "titleX": -55, "titleY": -12.5, "titleAlign": "left", "titleBaseline": "alphabetic", "titleFontSize": 21, "titleFontWeight": "bold", "labels": false, "ticks": false, "domain": false}}}},
     {"data": {"name": "chanceA"}, "mark": {"type": "rule", "color": "#111", "strokeWidth": 1},
      "encoding": {"y": {"field": "chance", "type": "quantitative", "scale": {"domain": [0, 25], "nice": false}, "axis": null}}},
     {"data": {"name": "A"}, "mark": {"type": "line", "strokeWidth": 3},
      "encoding": {
       "x": {"field": "t", "type": "quantitative", "scale": {"domain": [10, 2500], "nice": false}, "axis": null},
       "y": {"field": "m", "type": "quantitative", "scale": {"domain": [0, 25], "nice": false}, "axis": null},
       "stroke": {"field": "area", "type": "nominal", "scale": {"domain": ["ITC", "PFC"], "range": ["#0000ff", "#ff0000"]},
        "legend": {"orient": "none", "legendX": 194, "legendY": 0, "title": null, "fillColor": "white", "padding": 13, "symbolType": "stroke", "symbolSize": 3400, "symbolStrokeWidth": 4, "labelFontSize": 12.5, "labelOffset": 5, "clipHeight": 16, "rowPadding": 12.3}}}}
    ]
   },
   {
    "width": 312, "height": 232,
    "title": "Sample-stimulus category information",
    "resolve": {"axis": {"x": "independent", "y": "independent"}},
    "layer": [
     {"data": {"name": "B"}, "transform": [{"filter": {"field": "area", "equal": "ITC"}}], "mark": {"type": "area", "fill": "#0000ff", "fillOpacity": 0.8},
      "encoding": {
       "x": {"field": "t", "type": "quantitative", "scale": {"domain": [10, 2500], "nice": false}, "axis": {"values": [500, 1000, 1500, 2000, 2500], "format": "d", "title": null}},
       "y": {"field": "lo", "type": "quantitative", "scale": {"domain": [40, 100], "nice": false}, "axis": {"values": [40, 50, 60, 70, 80, 90, 100], "title": null}},
       "y2": {"field": "hi"}}},
     {"data": {"name": "B"}, "transform": [{"filter": {"field": "area", "equal": "PFC"}}], "mark": {"type": "area", "fill": "#ff0000", "fillOpacity": 0.72, "blend": "multiply"},
      "encoding": {
       "x": {"field": "t", "type": "quantitative", "scale": {"domain": [10, 2500], "nice": false}, "axis": null},
       "y": {"field": "lo", "type": "quantitative", "scale": {"domain": [40, 100], "nice": false}, "axis": null},
       "y2": {"field": "hi"}}},
     {"data": {"name": "events"}, "mark": {"type": "rule", "color": "#111", "strokeWidth": 1},
      "encoding": {"x": {"field": "t", "type": "quantitative", "scale": {"domain": [10, 2500], "nice": false}, "axis": {"orient": "top", "title": "B", "titleX": -55, "titleY": -12.5, "titleAlign": "left", "titleBaseline": "alphabetic", "titleFontSize": 21, "titleFontWeight": "bold", "labels": false, "ticks": false, "domain": false}}}},
     {"data": {"name": "chance50"}, "mark": {"type": "rule", "color": "#111", "strokeWidth": 1},
      "encoding": {"y": {"field": "chance", "type": "quantitative", "scale": {"domain": [40, 100], "nice": false}, "axis": null}}},
     {"data": {"name": "B"}, "mark": {"type": "line", "strokeWidth": 3},
      "encoding": {
       "x": {"field": "t", "type": "quantitative", "scale": {"domain": [10, 2500], "nice": false}, "axis": null},
       "y": {"field": "m", "type": "quantitative", "scale": {"domain": [40, 100], "nice": false}, "axis": null},
       "stroke": {"field": "area", "type": "nominal", "scale": {"domain": ["ITC", "PFC"], "range": ["#0000ff", "#ff0000"]}, "legend": null}}}
    ]
   }
  ],
  "spacing": 104, "bounds": "flush",
  "resolve": {"scale": {"stroke": "independent"}, "legend": {"stroke": "independent"}}
 },
 {
  "hconcat": [
   {
    "width": 312, "height": 232,
    "title": "Decision-stimulus category information",
    "resolve": {"axis": {"x": "independent", "y": "independent"}},
    "layer": [
     {"data": {"name": "C"}, "transform": [{"filter": {"field": "area", "equal": "ITC"}}], "mark": {"type": "area", "fill": "#0000ff", "fillOpacity": 0.8},
      "encoding": {
       "x": {"field": "t", "type": "quantitative", "scale": {"domain": [10, 2500], "nice": false}, "axis": {"values": [500, 1000, 1500, 2000, 2500], "format": "d", "title": "Time (ms)", "titleY": 38.5, "titleBaseline": "alphabetic"}},
       "y": {"field": "lo", "type": "quantitative", "scale": {"domain": [40, 100], "nice": false}, "axis": {"values": [40, 50, 60, 70, 80, 90, 100], "title": "Classification Accuracy", "titleX": -42, "titleY": 116, "titleAngle": -90, "titleAlign": "center", "titleBaseline": "middle"}},
       "y2": {"field": "hi"}}},
     {"data": {"name": "C"}, "transform": [{"filter": {"field": "area", "equal": "PFC"}}], "mark": {"type": "area", "fill": "#ff0000", "fillOpacity": 0.72, "blend": "multiply"},
      "encoding": {
       "x": {"field": "t", "type": "quantitative", "scale": {"domain": [10, 2500], "nice": false}, "axis": null},
       "y": {"field": "lo", "type": "quantitative", "scale": {"domain": [40, 100], "nice": false}, "axis": null},
       "y2": {"field": "hi"}}},
     {"data": {"name": "events"}, "mark": {"type": "rule", "color": "#222", "strokeWidth": 1},
      "encoding": {"x": {"field": "t", "type": "quantitative", "scale": {"domain": [10, 2500], "nice": false}, "axis": {"orient": "top", "title": "C", "titleX": -55, "titleY": -12.5, "titleAlign": "left", "titleBaseline": "alphabetic", "titleFontSize": 21, "titleFontWeight": "bold", "labels": false, "ticks": false, "domain": false}}}},
     {"data": {"name": "chance50"}, "mark": {"type": "rule", "color": "#222", "strokeWidth": 1},
      "encoding": {"y": {"field": "chance", "type": "quantitative", "scale": {"domain": [40, 100], "nice": false}, "axis": null}}},
     {"data": {"name": "C"}, "mark": {"type": "line", "strokeWidth": 3},
      "encoding": {
       "x": {"field": "t", "type": "quantitative", "scale": {"domain": [10, 2500], "nice": false}, "axis": null},
       "y": {"field": "m", "type": "quantitative", "scale": {"domain": [40, 100], "nice": false}, "axis": null},
       "stroke": {"field": "area", "type": "nominal", "scale": {"domain": ["ITC", "PFC"], "range": ["#0000ff", "#ff0000"]}, "legend": null}}}
    ]
   },
   {
    "width": 312, "height": 232,
    "title": "Match/non-match information",
    "resolve": {"axis": {"x": "independent", "y": "independent"}},
    "layer": [
     {"data": {"name": "D"}, "transform": [{"filter": {"field": "area", "equal": "ITC"}}], "mark": {"type": "area", "fill": "#0000ff", "fillOpacity": 0.8},
      "encoding": {
       "x": {"field": "t", "type": "quantitative", "scale": {"domain": [10, 2500], "nice": false}, "axis": {"values": [500, 1000, 1500, 2000, 2500], "format": "d", "title": "Time (ms)", "titleY": 38.5, "titleBaseline": "alphabetic"}},
       "y": {"field": "lo", "type": "quantitative", "scale": {"domain": [40, 100], "nice": false}, "axis": {"values": [40, 50, 60, 70, 80, 90, 100], "title": null}},
       "y2": {"field": "hi"}}},
     {"data": {"name": "D"}, "transform": [{"filter": {"field": "area", "equal": "PFC"}}], "mark": {"type": "area", "fill": "#ff0000", "fillOpacity": 0.72, "blend": "multiply"},
      "encoding": {
       "x": {"field": "t", "type": "quantitative", "scale": {"domain": [10, 2500], "nice": false}, "axis": null},
       "y": {"field": "lo", "type": "quantitative", "scale": {"domain": [40, 100], "nice": false}, "axis": null},
       "y2": {"field": "hi"}}},
     {"data": {"name": "events"}, "mark": {"type": "rule", "color": "#222", "strokeWidth": 1},
      "encoding": {"x": {"field": "t", "type": "quantitative", "scale": {"domain": [10, 2500], "nice": false}, "axis": {"orient": "top", "title": "D", "titleX": -55, "titleY": -12.5, "titleAlign": "left", "titleBaseline": "alphabetic", "titleFontSize": 21, "titleFontWeight": "bold", "labels": false, "ticks": false, "domain": false}}}},
     {"data": {"name": "chance50"}, "mark": {"type": "rule", "color": "#222", "strokeWidth": 1},
      "encoding": {"y": {"field": "chance", "type": "quantitative", "scale": {"domain": [40, 100], "nice": false}, "axis": null}}},
     {"data": {"name": "D"}, "mark": {"type": "line", "strokeWidth": 3},
      "encoding": {
       "x": {"field": "t", "type": "quantitative", "scale": {"domain": [10, 2500], "nice": false}, "axis": null},
       "y": {"field": "m", "type": "quantitative", "scale": {"domain": [40, 100], "nice": false}, "axis": null},
       "stroke": {"field": "area", "type": "nominal", "scale": {"domain": ["ITC", "PFC"], "range": ["#0000ff", "#ff0000"]}, "legend": null}}}
    ]
   }
  ],
  "spacing": 104, "bounds": "flush",
  "resolve": {"scale": {"stroke": "independent"}, "legend": {"stroke": "independent"}}
 },
 {
  "hconcat": [
   {
    "width": 188, "height": 232,
    "title": "ITC",
    "resolve": {"axis": {"x": "independent", "y": "independent"}},
    "layer": [
     {"data": {"name": "eventsEF"}, "mark": {"type": "rule", "color": "#555", "strokeWidth": 1.2},
      "encoding": {"x": {"field": "t", "type": "quantitative", "scale": {"domain": [1400, 2500], "nice": false}, "axis": {"orient": "top", "title": "E", "titleX": -55, "titleY": -12.5, "titleAlign": "left", "titleBaseline": "alphabetic", "titleFontSize": 21, "titleFontWeight": "bold", "labels": false, "ticks": false, "domain": false}}}},
     {"data": {"name": "chance50"}, "mark": {"type": "rule", "color": "#555", "strokeWidth": 1.2},
      "encoding": {"y": {"field": "chance", "type": "quantitative", "scale": {"domain": [40, 100], "nice": false}, "axis": null}}},
     {"data": {"name": "E"}, "mark": {"type": "line", "strokeWidth": 4.5},
      "encoding": {
       "x": {"field": "t", "type": "quantitative", "scale": {"domain": [1400, 2500], "nice": false}, "axis": {"values": [1500, 2000, 2500], "format": "d", "title": "Time (ms)", "titleY": 38, "titleBaseline": "alphabetic"}},
       "y": {"field": "v", "type": "quantitative", "scale": {"domain": [40, 100], "nice": false}, "axis": {"values": [40, 50, 60, 70, 80, 90, 100], "title": "Classification Accuracy", "titleX": -42, "titleY": 116, "titleAngle": -90, "titleAlign": "center", "titleBaseline": "middle"}},
       "stroke": {"field": "info", "type": "nominal", "scale": {"domain": ["Match vs. non-match trial", "Category of Decision-stimulus", "Category of Sample-stimulus"], "range": ["#330c04", "#178a17", "#3c14f0"]}, "legend": null}}}
    ]
   },
   {
    "width": 181, "height": 232,
    "title": "PFC",
    "resolve": {"axis": {"x": "independent", "y": "independent"}},
    "layer": [
     {"data": {"name": "eventsEF"}, "mark": {"type": "rule", "color": "#555", "strokeWidth": 1.2},
      "encoding": {"x": {"field": "t", "type": "quantitative", "scale": {"domain": [1400, 2500], "nice": false}, "axis": {"orient": "top", "title": "F", "titleX": -42, "titleY": -12.5, "titleAlign": "left", "titleBaseline": "alphabetic", "titleFontSize": 21, "titleFontWeight": "bold", "labels": false, "ticks": false, "domain": false}}}},
     {"data": {"name": "chance50"}, "mark": {"type": "rule", "color": "#555", "strokeWidth": 1.2},
      "encoding": {"y": {"field": "chance", "type": "quantitative", "scale": {"domain": [40, 100], "nice": false}, "axis": null}}},
     {"data": {"name": "F"}, "mark": {"type": "line", "strokeWidth": 4.5},
      "encoding": {
       "x": {"field": "t", "type": "quantitative", "scale": {"domain": [1400, 2500], "nice": false}, "axis": {"values": [1500, 2000, 2500], "format": "d", "title": "Time (ms)", "titleY": 38, "titleBaseline": "alphabetic"}},
       "y": {"field": "v", "type": "quantitative", "scale": {"domain": [40, 100], "nice": false}, "axis": {"values": [40, 50, 60, 70, 80, 90, 100], "title": null}},
       "stroke": {"field": "info", "type": "nominal", "scale": {"domain": ["Match vs. non-match trial", "Category of Decision-stimulus", "Category of Sample-stimulus"], "range": ["#330c04", "#178a17", "#3c14f0"]},
        "legend": {"orient": "none", "legendX": 227, "legendY": 21, "title": "Type of Information", "titleFontSize": 18, "titleFontWeight": "normal", "titleAnchor": "middle", "titleBaseline": "top", "titlePadding": 28, "padding": 0, "symbolType": "stroke", "symbolSize": 3249, "symbolStrokeWidth": 5, "labelFontSize": 12.5, "labelOffset": 4, "clipHeight": 16, "rowPadding": 12.8}}}}
    ]
   }
  ],
  "spacing": 88.5, "bounds": "flush",
  "resolve": {"scale": {"stroke": "independent"}, "legend": {"stroke": "independent"}}
 }
]
}
